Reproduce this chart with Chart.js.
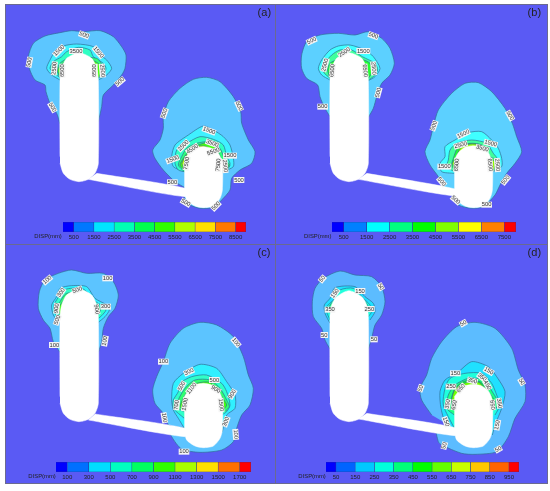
<!DOCTYPE html>
<html>
<head>
<meta charset="utf-8">
<script src="https://cdn.jsdelivr.net/npm/chart.js@4"></script>
<style>
body { margin: 0; background: #fff; width: 550px; height: 491px; overflow: hidden; position: relative; }
canvas { position: absolute; filter: blur(0.3px); }
.frame { position: absolute; background: #5a5af4; box-sizing: border-box; border: 1px solid #6a6a90; }
</style>
</head>
<body>
<div class="frame" style="left:5px;top:4px;width:271px;height:241px"></div>
<div class="frame" style="left:275px;top:4px;width:273px;height:241px"></div>
<div class="frame" style="left:5px;top:244px;width:271px;height:240px"></div>
<div class="frame" style="left:275px;top:244px;width:273px;height:240px"></div>
<script>
const levelsA = [500, 1500, 2500, 3500, 4500, 5500, 6500, 7500, 8500];
const levelsB = [500, 1500, 2500, 3500, 4500, 5500, 6500, 7500];
const levelsC = [100, 300, 500, 700, 900, 1100, 1300, 1500, 1700];
const levelsD = [50, 150, 250, 350, 450, 550, 650, 750, 850, 950];
const coloursA = ['#0000ff','#0078ff','#00e4ff','#00ffb4','#00ff50','#30ff00','#b0ff00','#ffe000','#ff7800','#ff0000'];
const coloursB = ['#0000ff','#0080ff','#00ffff','#00ff80','#00ff00','#80ff00','#ffff00','#ff8000','#ff0000'];
const coloursC = ['#0000ff','#0070ff','#00dcff','#00ffc0','#00ff60','#30ff00','#a8ff00','#ffe000','#ff7000','#ff0000'];
const coloursD = ['#0000ff','#0064ff','#00c8ff','#00ffdc','#00ff78','#00ff00','#64ff00','#c8ff00','#ffc800','#ff6400','#ff0000'];

// panel (a)
const aUp1 = [[180,372],[170,340],[150,310],[138,275],[135,255],[105,240],[88,205],[85,170],[100,130],[135,108],[180,98],[215,92],[250,95],[300,92],[340,110],[365,140],[378,165],[375,205],[365,225],[340,255],[310,285],[305,320],[295,365]];
const aUp2 = [[180,240],[155,225],[140,205],[150,180],[165,155],[190,138],[230,132],[280,140],[300,165],[320,180],[335,205],[320,225],[295,240]];
const aUp3 = [[180,232],[165,222],[150,205],[160,185],[185,170],[200,155],[235,142],[270,150],[280,170],[310,190],[318,205],[310,225],[295,235]];
const aUp4 = [[180,235],[172,210],[180,190],[205,175],[290,175],[310,205],[300,230]];
const aUp5 = [[180,232],[173,210],[185,192],[205,182],[275,180],[300,195],[303,215],[295,235]];
const aLo1 = [[553,562],[525,545],[490,510],[465,475],[458,450],[480,420],[490,385],[490,350],[505,305],[540,265],[580,238],[620,232],[660,245],[700,290],[722,335],[725,370],[745,420],[765,455],[755,490],[720,510],[695,535],[690,570],[665,600],[640,622],[600,625],[560,610],[553,590]];
const aLo2 = [[553,515],[520,500],[515,470],[525,435],[565,405],[610,378],[640,390],[670,410],[690,435],[700,475],[700,500],[670,515]];
const aLo3 = [[553,515],[535,510],[525,490],[530,450],[560,430],[600,410],[640,418],[670,435],[680,470],[690,490],[680,510],[665,520]];
const aLo4 = [[553,515],[535,495],[545,470],[560,445],[590,430],[630,425],[660,445],[675,480],[690,495],[680,510],[665,515]];
const aLo5 = [[553,510],[540,495],[548,478],[565,455],[585,440],[620,428],[650,445],[665,480],[685,495],[680,510],[665,512]];
const aLo6 = [[553,505],[546,490],[556,470],[575,450],[600,438],[620,440],[640,460],[665,490],[665,508]];
const aPile1 = [[180,470],[180,240],[185,205],[200,175],[237,158],[275,175],[290,205],[295,240],[295,490],[285,520],[265,538],[237,545],[210,538],[190,520],[180,490]];
const aPile2 = [[553,480],[565,462],[585,445],[610,440],[635,445],[655,460],[667,490],[667,570],[660,595],[640,618],[610,623],[585,618],[560,600],[553,570]];
const aBeam = [[290,520],[555,565],[555,590],[265,538]];
const aText = [['500',252,105,20],['1500',177,152,-45],['1500',295,157,50],['3500',228,153,0],['500',88,187,-80],['2500',163,205,-85],['6500',187,212,-90],['6500',284,212,-90],['2500',307,212,85],['500',360,245,-40],['500',157,322,60],['500',493,340,-70],['500',717,318,65],['1500',627,392,20],['3500',637,430,20],['2500',550,437,-45],['4500',577,447,-35],['5500',640,455,-20],['1500',518,478,-20],['7500',560,490,-80],['1500',690,467,0],['7500',655,495,-85],['2500',675,498,85],['500',517,547,0],['500',717,540,0],['500',557,608,30],['500',648,618,-45]];

// panel (b)
const bUp1 = [[165,350],[150,325],[135,290],[128,255],[95,235],[80,205],[80,165],[95,125],[135,105],[190,100],[240,105],[280,95],[320,115],[345,145],[358,190],[345,225],[320,250],[305,290],[295,325],[280,352]];
const bUp2 = [[165,240],[140,225],[130,205],[140,180],[165,150],[190,138],[225,135],[270,150],[295,170],[315,205],[300,230],[280,242]];
const bUp3 = [[165,235],[145,215],[150,190],[170,165],[195,150],[230,150],[262,170],[300,190],[308,210],[295,230],[280,240]];
const bUp4 = [[165,235],[158,210],[165,190],[185,180],[265,180],[285,190],[292,215],[280,235]];
const bLo1 = [[538,580],[510,570],[490,530],[465,495],[450,455],[465,420],[475,380],[490,330],[530,280],[570,250],[610,248],[650,275],[690,325],[712,370],[725,410],[740,455],[720,490],[695,520],[675,555],[660,585],[625,620],[590,625],[550,615],[530,590]];
const bLo2 = [[538,520],[500,515],[495,490],[510,470],[510,440],[540,420],[580,398],[620,395],[650,420],[670,445],[680,475],[680,500],[652,515]];
const bLo3 = [[538,515],[515,500],[520,480],[525,450],[545,430],[590,420],[635,430],[655,460],[670,480],[672,505],[652,515]];
const bLo4 = [[538,510],[530,495],[535,475],[550,440],[585,430],[620,435],[645,470],[665,480],[665,505],[652,512]];
const bLo5 = [[538,500],[532,490],[545,470],[555,445],[585,432],[615,436],[640,475],[660,485],[658,505],[652,510]];
const bPile1 = [[165,470],[165,240],[170,205],[185,175],[222,158],[260,175],[275,205],[280,240],[280,490],[270,520],[250,538],[222,545],[195,538],[175,520],[165,490]];
const bPile2 = [[538,480],[550,458],[570,442],[595,437],[620,442],[640,458],[652,490],[652,570],[645,595],[625,618],[595,623],[570,618],[545,600],[538,570]];
const bBeam = [[275,520],[540,567],[540,588],[250,538]];
const bText = [['500',110,122,-25],['500',295,107,20],['1500',265,153,0],['2500',208,157,-35],['2500',150,195,-75],['6500',172,212,-85],['6500',270,212,85],['2500',296,205,85],['500',310,278,-75],['500',143,320,0],['500',477,377,-70],['500',705,347,60],['1500',565,402,-25],['1500',647,430,15],['2500',557,435,-15],['3500',622,445,15],['1500',508,500,0],['6500',545,495,-85],['6500',645,495,85],['2500',667,495,85],['500',500,545,50],['500',692,540,-50],['500',542,600,40],['500',635,614,0]];

// panel (c)
const cUp1 = [[180,322],[160,290],[150,250],[130,225],[115,190],[118,140],[135,105],[175,85],[215,75],[260,85],[310,85],[340,110],[355,150],[345,190],[325,215],[310,250],[305,290],[295,322]];
const cUp2 = [[180,235],[160,210],[155,180],[170,155],[180,130],[215,122],[260,125],[285,160],[320,180],[328,195],[315,215],[295,232]];
const cUp3 = [[180,225],[165,205],[162,180],[180,150],[200,132],[250,132],[280,165],[310,185],[318,195],[305,212],[295,220]];
const cUp4 = [[180,215],[170,190],[180,170],[200,145],[260,145],[285,175],[302,190],[295,210]];
const cUp5 = [[180,207],[175,190],[188,170],[205,150],[255,150],[280,178],[290,195],[292,205]];
const cLo1 = [[553,550],[505,545],[515,575],[545,612],[600,622],[665,615],[700,590],[710,550],[725,510],[750,480],[760,430],[745,390],[730,335],[700,275],[650,240],[600,232],[550,250],[510,295],[490,350],[470,395],[458,435],[465,475],[490,505],[505,540]];
const cLo2 = [[553,550],[535,520],[520,495],[515,465],[520,415],[550,385],[600,358],[650,370],[680,410],[705,450],[705,490],[680,510],[667,560]];
const cLo3 = [[553,520],[520,490],[520,465],[535,440],[540,415],[575,395],[620,390],[665,415],[680,440],[690,480],[680,500],[665,510]];
const cLo4 = [[553,500],[535,490],[535,465],[555,430],[585,405],[630,405],[660,430],[680,465],[688,485],[675,500]];
const cLo5 = [[553,495],[540,485],[550,460],[565,435],[590,415],[630,412],[655,440],[672,465],[680,480],[670,495]];
const cPile1 = [[180,455],[180,215],[185,180],[200,150],[237,133],[275,150],[290,180],[295,215],[295,475],[285,505],[265,523],[237,530],[210,523],[190,505],[180,475]];
const cPile2 = [[553,455],[565,437],[585,420],[610,415],[635,420],[655,435],[667,465],[667,555],[660,580],[640,603],[610,608],[585,603],[560,585],[553,555]];
const cBeam = [[285,507],[555,550],[555,575],[265,525]];
const cText = [['100',142,105,-40],['100',323,100,0],['300',183,143,-55],['500',232,135,-20],['900',170,190,-85],['500',172,225,-70],['900',290,193,80],['300',317,185,0],['100',163,300,0],['100',315,288,-80],['100',490,350,0],['100',708,292,50],['300',567,380,-25],['500',643,405,0],['500',545,423,-60],['1100',575,430,-50],['900',647,433,30],['900',697,447,-60],['700',530,480,-85],['1500',555,478,-80],['1500',663,480,85],['300',678,530,-70],['100',493,518,80],['100',707,568,85],['100',552,620,0]];

// panel (d)
const dUp1 = [[165,312],[150,285],[140,250],[115,215],[112,170],[120,130],[145,100],[195,78],[240,90],[290,95],[320,125],[330,170],[320,210],[300,240],[290,280],[280,312]];
const dUp2 = [[165,235],[150,205],[148,180],[165,160],[180,128],[240,125],[270,155],[295,175],[300,200],[285,225]];
const dUp3 = [[165,225],[155,200],[155,185],[175,165],[195,135],[235,130],[265,160],[285,180],[290,200],[280,215]];
const dUp4 = [[165,205],[160,190],[180,165],[265,165],[282,190],[280,200]];
const dLo1 = [[538,550],[485,550],[490,590],[500,600],[560,625],[600,628],[665,620],[700,575],[720,520],[750,470],[750,420],[730,375],[710,310],[660,250],[600,232],[545,245],[500,290],[470,340],[455,390],[435,430],[440,465],[470,510]];
const dLo2 = [[538,560],[515,545],[498,490],[495,440],[510,405],[545,385],[590,350],[640,365],[665,395],[690,440],[680,490],[660,540],[652,570]];
const dLo3 = [[538,550],[505,480],[510,430],[525,400],[570,385],[620,385],[650,415],[665,450],[675,480],[660,510]];
const dLo4 = [[538,510],[515,490],[520,450],[540,420],[580,400],[625,405],[655,445],[670,475],[660,495]];
const dLo5 = [[538,490],[528,470],[540,430],[570,408],[615,410],[640,440],[660,470],[655,490]];
const dLo6 = [[538,480],[530,465],[542,430],[575,412],[612,412],[635,440],[652,470],[650,490]];
const dPile1 = [[165,455],[165,215],[170,180],[185,155],[222,137],[260,155],[275,180],[280,215],[280,475],[270,505],[250,523],[222,530],[195,523],[175,505],[165,475]];
const dPile2 = [[538,455],[550,440],[570,423],[595,418],[620,423],[640,438],[652,465],[652,555],[645,580],[625,603],[595,608],[570,603],[545,585],[538,555]];
const dBeam = [[275,505],[540,548],[540,572],[250,522]];
const dText = [['50',142,102,-50],['50',317,125,60],['150',180,145,-55],['150',255,138,0],['350',165,194,0],['250',283,192,0],['50',148,270,0],['50',297,283,0],['50',565,235,-30],['150',641,378,30],['150',541,385,0],['350',621,397,40],['350',592,407,15],['250',528,425,0],['650',558,430,-50],['450',637,420,60],['350',518,477,-80],['650',538,480,-80],['650',652,480,85],['350',673,475,80],['150',513,530,70],['150',667,540,-80],['50',437,430,-70],['50',740,410,60],['50',508,602,-75],['50',670,613,-30]];

const OUTLINE = '#2f6f96';
const FONT = '"Liberation Sans", Arial, sans-serif';

// draws contour labels, panel letter and the DISP(mm) caption
const labelPlugin = {
    id: 'labels',
    afterDatasetsDraw(chart, args, opts) {
        const ctx = chart.ctx;
        const px = v => chart.scales.x.getPixelForValue(v);
        const py = v => chart.scales.y.getPixelForValue(v);
        ctx.save();
        ctx.font = '5.8px ' + FONT;
        ctx.textAlign = 'center';
        ctx.textBaseline = 'middle';
        opts.items.forEach(t => {
            const w = ctx.measureText(t[0]).width;
            ctx.save();
            ctx.translate(px(t[1]), py(t[2]));
            ctx.rotate(t[3] * Math.PI / 180);
            ctx.fillStyle = '#f4f4f4';
            ctx.fillRect(-w / 2 - 0.5, -3, w + 1, 6);
            ctx.fillStyle = '#333';
            ctx.fillText(t[0], 0, 0);
            ctx.restore();
        });
        ctx.fillStyle = '#222';
        ctx.font = '11px ' + FONT;
        ctx.fillText(opts.letter[0], px(opts.letter[1]), py(opts.letter[2]));
        ctx.font = '5.9px ' + FONT;
        ctx.textAlign = 'left';
        ctx.fillText('DISP(mm)', px(opts.caption[0]), py(opts.caption[1]));
        ctx.restore();
    }
};

const addCanvas = (left, top, w, h) => {
    const c = document.createElement('canvas');
    c.width = w; c.height = h;
    c.style.left = left + 'px';
    c.style.top = top + 'px';
    c.style.width = w + 'px';
    c.style.height = h + 'px';
    document.body.appendChild(c);
    return c;
};

const printPanel = (left, top, h, yMax, layers, solids, items, letter, caption) => {
    const datasets = [];
    layers.forEach((l, i) => {
        datasets.push({
            data: l[0], showLine: true, fill: 'shape', backgroundColor: l[1], borderColor: OUTLINE,
            borderWidth: 0.7, tension: 0.25, pointRadius: 0, order: 100 - i
        });
    });
    solids.forEach(s => {
        datasets.push({
            data: s, showLine: true, fill: 'shape', backgroundColor: '#fff', borderColor: '#fff',
            borderWidth: 0.5, tension: 0.25, pointRadius: 0, order: 1
        });
    });
    new Chart(addCanvas(left, top, 275, h), {
        type: 'scatter',
        data: { datasets },
        options: {
            responsive: false, animation: false, events: [],
            layout: { padding: 0 },
            scales: {
                x: { display: false, min: 0, max: 825 },
                y: { display: false, min: 0, max: yMax, reverse: true }
            },
            plugins: {
                legend: { display: false }, tooltip: { enabled: false },
                labels: { items, letter, caption }
            }
        },
        plugins: [labelPlugin]
    });
};

const printBar = (left, top, w, levels, colours, min, max) => {
    const edges = [min, ...levels, max];
    new Chart(addCanvas(left, top, w, 24), {
        type: 'bar',
        data: {
            labels: [''],
            datasets: colours.map((c, i) => ({
                data: [[edges[i], edges[i + 1]]], backgroundColor: c,
                borderColor: '#30308c', borderWidth: 0.6, grouped: false,
                barPercentage: 1, categoryPercentage: 1
            }))
        },
        options: {
            indexAxis: 'y', responsive: false, animation: false, events: [],
            layout: { padding: 0 },
            scales: {
                y: { display: false },
                x: {
                    type: 'linear', min, max,
                    grid: { display: false, drawTicks: false }, border: { display: false },
                    afterBuildTicks: s => { s.ticks = levels.map(v => ({ value: v })); },
                    afterFit: s => { s.height = 14; },
                    ticks: {
                        color: '#222', padding: 2, maxRotation: 0, autoSkip: false,
                        font: { size: 6, family: FONT },
                        callback: v => String(v)
                    }
                }
            },
            plugins: { legend: { display: false }, tooltip: { enabled: false } }
        }
    });
};

const fillsA = ['#5cc6ff', '#40f0ff', '#30ffc4', '#30ff78', '#44ff10', '#b8ff00'];
const fillsB = ['#5cd0ff', '#40ffff', '#40ff9c', '#20ff30', '#90ff00'];
const fillsC = ['#5cc4ff', '#30f0ff', '#30ffc8', '#30ff70', '#40ff10'];
const fillsD = ['#5cbcff', '#20e0ff', '#20ffdc', '#20ff84', '#10ff20', '#70ff00'];

printPanel(0, 0, 245, 735,
    [[aUp1, fillsA[0]], [aUp2, fillsA[1]], [aUp3, fillsA[2]], [aUp4, fillsA[3]], [aUp5, fillsA[4]],
     [aLo1, fillsA[0]], [aLo2, fillsA[1]], [aLo3, fillsA[2]], [aLo4, fillsA[3]], [aLo5, fillsA[4]], [aLo6, fillsA[5]]],
    [aPile1, aPile2, aBeam], aText, ['(a)', 793, 40], [103, 708]);
printPanel(275, 0, 245, 735,
    [[bUp1, fillsB[0]], [bUp2, fillsB[1]], [bUp3, fillsB[2]], [bUp4, fillsB[3]],
     [bLo1, fillsB[0]], [bLo2, fillsB[1]], [bLo3, fillsB[2]], [bLo4, fillsB[3]], [bLo5, fillsB[4]]],
    [bPile1, bPile2, bBeam], bText, ['(b)', 778, 40], [87, 708]);
printPanel(0, 245, 246, 738,
    [[cUp1, fillsC[0]], [cUp2, fillsC[1]], [cUp3, fillsC[2]], [cUp4, fillsC[3]], [cUp5, fillsC[4]],
     [cLo1, fillsC[0]], [cLo2, fillsC[1]], [cLo3, fillsC[2]], [cLo4, fillsC[3]], [cLo5, fillsC[4]]],
    [cPile1, cPile2, cBeam], cText, ['(c)', 792, 25], [85, 694]);
printPanel(275, 245, 246, 738,
    [[dUp1, fillsD[0]], [dUp2, fillsD[1]], [dUp3, fillsD[2]], [dUp4, fillsD[3]],
     [dLo1, fillsD[0]], [dLo2, fillsD[1]], [dLo3, fillsD[2]], [dLo4, fillsD[3]], [dLo5, fillsD[4]], [dLo6, fillsD[5]]],
    [dPile1, dPile2, dBeam], dText, ['(d)', 778, 25], [70, 694]);

printBar(63, 222, 183, levelsA, coloursA, -30, 9013);
printBar(332, 222, 184, levelsB, coloursB, -10, 8010);
printBar(56, 462, 195, levelsC, coloursC, -4, 1804);
printBar(326, 462, 193, levelsD, coloursD, -2, 1002);
</script>
</body>
</html>
